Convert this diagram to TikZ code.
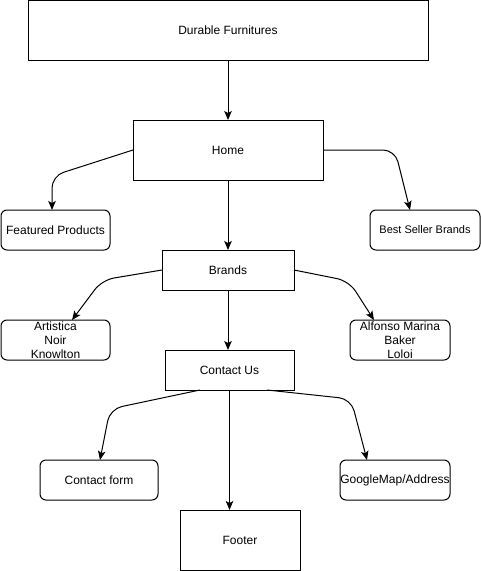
\documentclass[tikz,border=0pt]{standalone}
\usepackage{fontspec}
\setmainfont{Liberation Sans}
\usetikzlibrary{arrows.meta}
\begin{document}
\begin{tikzpicture}[x=1pt,y=-1pt,
  box/.style={draw=black,line width=1pt,fill=white,inner sep=0pt,outer sep=0pt,align=center,font=\fontsize{12}{13.8}\selectfont},
  rbox/.style={box,rounded corners=6pt},
  conn/.style={draw=black,line width=1pt,rounded corners=12pt,-{Stealth[length=9pt,width=7.5pt,inset=2pt]}}
]
\useasboundingbox (0,0) rectangle (481,571);
% nodes
\node[box,minimum width=400pt,minimum height=60pt] (top) at (228,30) {Durable Furnitures};
\node[box,minimum width=190pt,minimum height=60pt] (home) at (228,150) {Home};
\node[rbox,minimum width=109pt,minimum height=40pt] (feat) at (55.5,230) {Featured Products};
\node[rbox,minimum width=110pt,minimum height=40pt,font=\fontsize{11}{13}\selectfont] (best) at (425,230) {Best Seller Brands};
\node[box,minimum width=132pt,minimum height=40pt] (brands) at (228,270) {Brands};
\node[rbox,minimum width=109pt,minimum height=40pt] (art) at (55.5,340) {Artistica\\Noir\\Knowlton};
\node[rbox,minimum width=100pt,minimum height=40pt] (alf) at (400,340) {Alfonso Marina\\Baker\\Loloi};
\node[box,minimum width=129pt,minimum height=40pt] (contact) at (229.5,370) {Contact Us};
\node[rbox,minimum width=118pt,minimum height=40pt] (form) at (99,480) {Contact form};
\node[rbox,minimum width=110pt,minimum height=40pt] (gmap) at (395,480) {GoogleMap/Address};
\node[box,minimum width=120pt,minimum height=60pt] (footer) at (240,540) {Footer};
% waypoints
\coordinate (c1) at (52,176);
\coordinate (c2) at (395,150);
\coordinate (c3) at (102,280);
\coordinate (c4) at (349,281);
\coordinate (c5) at (110,409);
\coordinate (c6) at (351,399);
\coordinate (s5) at (200,390);
\coordinate (s6) at (267,390);
% connectors
\draw[conn] (top.south) -- (home.north);
\draw[conn] (home.west) -- (c1) -- (feat.north -| c1);
\draw[conn] (home.east) -- (c2) -- ([xshift=-15pt]best.north);
\draw[conn] (home.south) -- (brands.north);
\draw[conn] (brands.west) -- (c3) -- ([xshift=71pt]art.north west);
\draw[conn] (brands.east) -- (c4) -- ([xshift=24pt]alf.north west);
\draw[conn] (brands.south) -- (contact.north -| brands.south);
\draw[conn] (s5) -- (c5) -- ([xshift=60pt]form.north west);
\draw[conn] (s6) -- (c6) -- ([xshift=27pt]gmap.north west);
\draw[conn] (contact.south) -- (footer.north -| contact.south);
\end{tikzpicture}
\end{document}
